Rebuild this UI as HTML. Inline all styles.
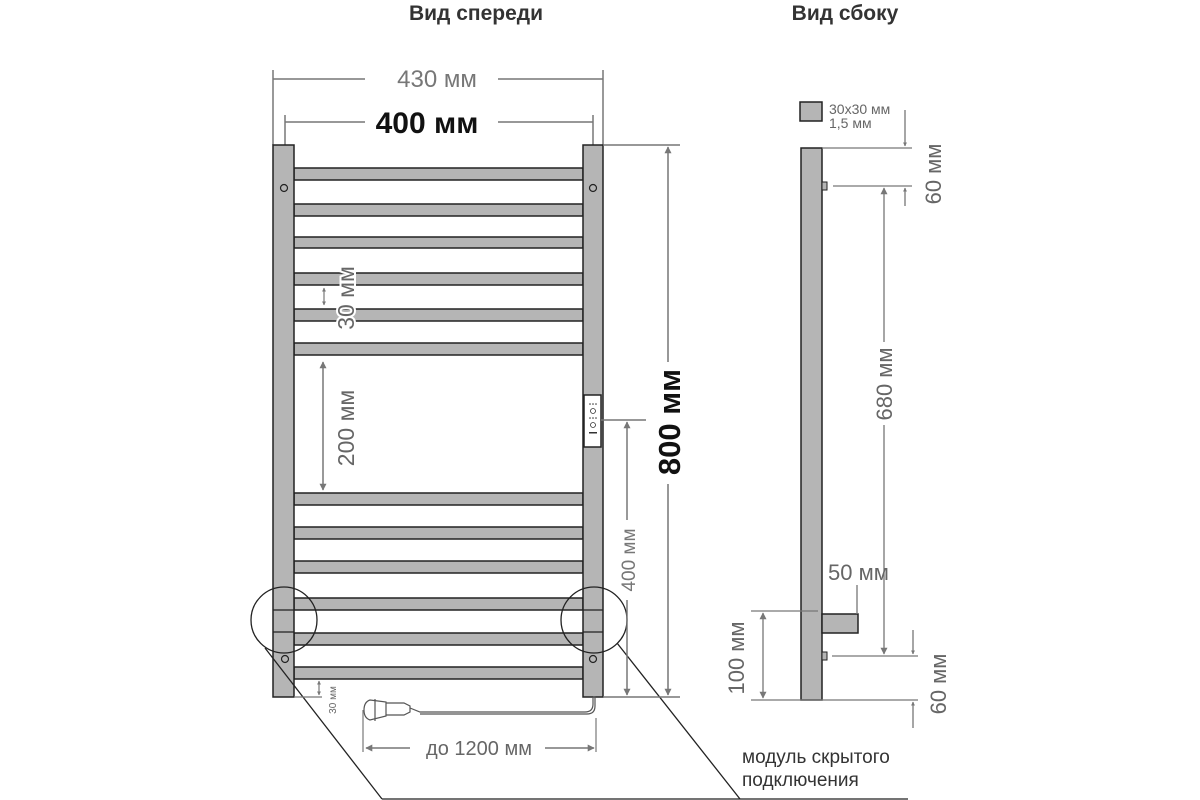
<!DOCTYPE html>
<html><head><meta charset="utf-8"><style>
html,body{margin:0;padding:0;background:#fff;}
svg{display:block;font-family:"Liberation Sans",sans-serif;}
</style></head><body>
<svg width="1200" height="800" viewBox="0 0 1200 800" xmlns="http://www.w3.org/2000/svg">
<defs>
<marker id="a" viewBox="0 0 10 10" refX="9" refY="5" markerWidth="7" markerHeight="9" orient="auto-start-reverse" markerUnits="userSpaceOnUse"><path d="M0,0 L10,5 L0,10 z" fill="#777"/></marker>
<marker id="s" viewBox="0 0 10 10" refX="9" refY="5" markerWidth="4" markerHeight="5" orient="auto-start-reverse" markerUnits="userSpaceOnUse"><path d="M0,0 L10,5 L0,10 z" fill="#777"/></marker>
</defs>
<text x="476" y="20" font-size="21" font-weight="bold" text-anchor="middle" fill="#333">Вид спереди</text>
<text x="845" y="20" font-size="21" font-weight="bold" text-anchor="middle" fill="#333">Вид сбоку</text>

<g stroke="#777" stroke-width="1.5" fill="none">
<line x1="273" y1="70" x2="273" y2="145"/><line x1="603" y1="70" x2="603" y2="145"/>
<line x1="273" y1="79" x2="365" y2="79"/><line x1="498" y1="79" x2="603" y2="79"/>
<line x1="285" y1="115" x2="285" y2="155"/><line x1="593" y1="115" x2="593" y2="155"/>
<line x1="285" y1="122" x2="365" y2="122"/><line x1="498" y1="122" x2="593" y2="122"/>
</g>
<text x="437" y="87" font-size="24" text-anchor="middle" fill="#777">430 мм</text>
<text x="427" y="133" font-size="30" font-weight="bold" text-anchor="middle" fill="#111">400 мм</text>

<g fill="#b5b5b5" stroke="#222" stroke-width="1.5">
<rect x="294" y="168" width="289" height="12"/>
<rect x="294" y="204" width="289" height="12"/>
<rect x="294" y="237" width="289" height="11"/>
<rect x="294" y="273" width="289" height="12"/>
<rect x="294" y="309" width="289" height="12"/>
<rect x="294" y="343" width="289" height="12"/>
<rect x="294" y="493" width="289" height="12"/>
<rect x="294" y="527" width="289" height="12"/>
<rect x="294" y="561" width="289" height="12"/>
<rect x="294" y="598" width="289" height="12"/>
<rect x="294" y="633" width="289" height="12"/>
<rect x="294" y="667" width="289" height="12"/>
<rect x="273" y="145" width="21" height="552"/>
<rect x="583" y="145" width="20" height="552"/>
</g>
<g stroke="#222" stroke-width="1.2" fill="none">
<line x1="273" y1="610" x2="294" y2="610"/><line x1="273" y1="632" x2="294" y2="632"/>
<line x1="583" y1="610" x2="603" y2="610"/><line x1="583" y1="632" x2="603" y2="632"/>
<circle cx="284" cy="188" r="3.5"/><circle cx="593" cy="188" r="3.5"/>
<circle cx="285" cy="659" r="3.5"/><circle cx="593" cy="659" r="3.5"/>
</g>
<rect x="584" y="395" width="17" height="52" fill="#fff" stroke="#222" stroke-width="1.5"/>
<g fill="#333">
<circle cx="590" cy="404" r="0.8"/><circle cx="593" cy="404" r="0.8"/><circle cx="596" cy="404" r="0.8"/>
<circle cx="593" cy="411" r="2.5" fill="none" stroke="#333" stroke-width="0.8"/>
<circle cx="590" cy="418" r="0.8"/><circle cx="593" cy="418" r="0.8"/><circle cx="596" cy="418" r="0.8"/>
<circle cx="593" cy="425" r="2.5" fill="none" stroke="#333" stroke-width="0.8"/>
<rect x="589" y="432" width="8" height="1.5"/>
</g>
<g stroke="#222" stroke-width="1.3" fill="none">
<circle cx="284" cy="620" r="33"/>
<circle cx="594" cy="620" r="33"/>
<line x1="265" y1="648" x2="382" y2="799"/>
<line x1="617" y1="643" x2="740" y2="799"/>
<line x1="382" y1="799" x2="908" y2="799"/>
</g>
<text x="742" y="763" font-size="19" fill="#333">модуль скрытого</text>
<text x="742" y="786" font-size="19" fill="#333">подключения</text>

<g stroke="#777" stroke-width="1.2" fill="none">
<line x1="324" y1="288" x2="324" y2="305" marker-start="url(#s)" marker-end="url(#s)"/>
<line x1="323" y1="362" x2="323" y2="490" marker-start="url(#a)" marker-end="url(#a)" stroke-width="1.5"/>
<line x1="294" y1="697" x2="322" y2="697"/>
<line x1="319" y1="681" x2="319" y2="695" marker-start="url(#s)" marker-end="url(#s)"/>
</g>
<text transform="translate(354,298) rotate(-90)" font-size="23" text-anchor="middle" fill="#666" stroke="#fff" stroke-width="4" paint-order="stroke">30 мм</text>
<text transform="translate(354,428) rotate(-90)" font-size="23" text-anchor="middle" fill="#666">200 мм</text>
<text transform="translate(336,700) rotate(-90)" font-size="10" text-anchor="middle" fill="#666">30 мм</text>

<g stroke="#777" stroke-width="1.5" fill="none">
<line x1="603" y1="145" x2="680" y2="145"/>
<line x1="603" y1="697" x2="680" y2="697"/>
<line x1="668" y1="147" x2="668" y2="362" marker-start="url(#a)"/>
<line x1="668" y1="484" x2="668" y2="695" marker-end="url(#a)"/>
<line x1="601" y1="420" x2="646" y2="420"/>
<line x1="627" y1="422" x2="627" y2="520" marker-start="url(#a)"/>
<line x1="627" y1="600" x2="627" y2="695" marker-end="url(#a)"/>
</g>
<text transform="translate(680,422) rotate(-90)" font-size="31" font-weight="bold" text-anchor="middle" fill="#111">800 мм</text>
<text transform="translate(635,560) rotate(-90)" font-size="19" text-anchor="middle" fill="#777">400 мм</text>

<g stroke="#555" stroke-width="1.2" fill="none">
<path d="M593,697 L593,704 Q593,712 585,712 L420,712 L410,708"/>
<path d="M593,697 L595,697 L595,706 Q595,714 587,714 L420,714"/>
<path d="M386,703 L404,703 L410,706 L410,712 L404,715 L386,715"/>
<path d="M370,700 Q364,702 364,710 Q364,718 370,720 L386,716 L386,702 Z"/>
<line x1="375" y1="699" x2="375" y2="721"/>
<line x1="363" y1="710" x2="363" y2="752" stroke="#777"/>
<line x1="596" y1="718" x2="596" y2="752" stroke="#777"/>
<line x1="366" y1="748" x2="410" y2="748" marker-start="url(#a)" stroke="#777" stroke-width="1.5"/>
<line x1="545" y1="748" x2="594" y2="748" marker-end="url(#a)" stroke="#777" stroke-width="1.5"/>
</g>
<text x="479" y="755" font-size="20" text-anchor="middle" fill="#666">до 1200 мм</text>

<rect x="800" y="102" width="22" height="19" fill="#b5b5b5" stroke="#222" stroke-width="1.5"/>
<text x="829" y="114" font-size="14" fill="#666">30x30 мм</text>
<text x="829" y="128" font-size="14" fill="#666">1,5 мм</text>
<rect x="801" y="148" width="21" height="552" fill="#b5b5b5" stroke="#222" stroke-width="1.5"/>
<rect x="822" y="182" width="5" height="8" fill="#b5b5b5" stroke="#222" stroke-width="1"/>
<rect x="822" y="652" width="5" height="8" fill="#b5b5b5" stroke="#222" stroke-width="1"/>
<rect x="822" y="614" width="36" height="19" fill="#b5b5b5" stroke="#222" stroke-width="1.5"/>
<g stroke="#777" stroke-width="1.3" fill="none">
<line x1="822" y1="148" x2="912" y2="148"/>
<line x1="833" y1="186" x2="912" y2="186"/>
<line x1="905" y1="110" x2="905" y2="146" marker-end="url(#s)"/>
<line x1="905" y1="206" x2="905" y2="188" marker-end="url(#s)"/>
<line x1="884" y1="188" x2="884" y2="342" marker-start="url(#a)"/>
<line x1="884" y1="425" x2="884" y2="654" marker-end="url(#a)"/>
<line x1="832" y1="656" x2="918" y2="656"/>
<line x1="913" y1="630" x2="913" y2="654" marker-end="url(#s)"/>
<line x1="751" y1="700" x2="918" y2="700"/>
<line x1="913" y1="728" x2="913" y2="702" marker-end="url(#s)"/>
<line x1="751" y1="611" x2="818" y2="611"/>
<line x1="763" y1="613" x2="763" y2="698" marker-start="url(#a)" marker-end="url(#a)"/>
<line x1="857" y1="585" x2="857" y2="614"/>
</g>
<text transform="translate(941,174) rotate(-90)" font-size="22" text-anchor="middle" fill="#666">60 мм</text>
<text transform="translate(892,384) rotate(-90)" font-size="22" text-anchor="middle" fill="#666">680 мм</text>
<text x="828" y="580" font-size="22" fill="#666">50 мм</text>
<text transform="translate(744,658) rotate(-90)" font-size="22" text-anchor="middle" fill="#666">100 мм</text>
<text transform="translate(946,684) rotate(-90)" font-size="22" text-anchor="middle" fill="#666">60 мм</text>
</svg>
</body></html>
